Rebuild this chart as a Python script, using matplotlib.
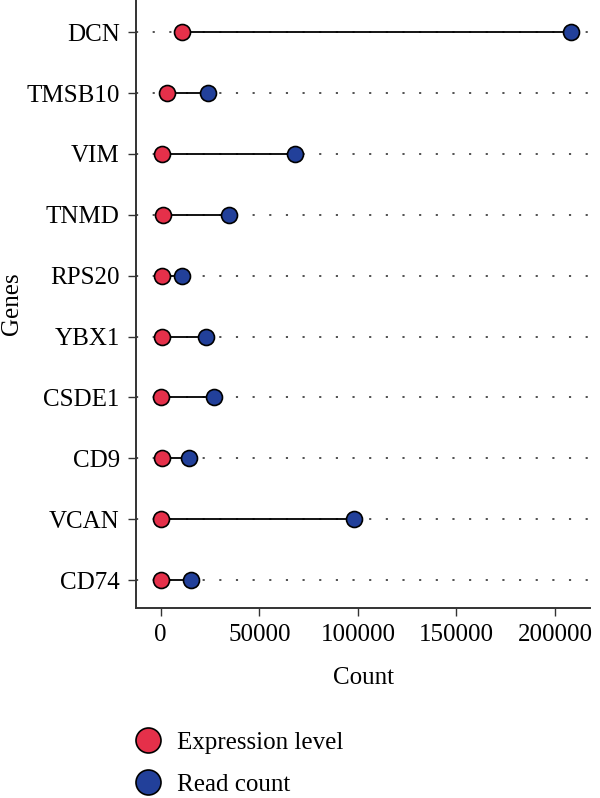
import matplotlib
matplotlib.use("Agg")
import matplotlib.pyplot as plt
from matplotlib.lines import Line2D

plt.rcParams['font.family'] = ['Liberation Serif', 'DejaVu Serif']

# genes from bottom to top
genes = ["CD74", "VCAN", "CD9", "CSDE1", "YBX1", "RPS20", "TNMD", "VIM", "TMSB10", "DCN"]
expression = [200, 300, 500, 150, 650, 800, 1000, 800, 3350, 10650]
read_count = [15200, 98200, 14350, 26900, 23100, 10550, 34800, 68100, 24000, 208000]
xticks = [0, 50000, 100000, 150000, 200000]

RED = "#E5304A"
BLUE = "#22409A"
FS = 18

fig = plt.figure(figsize=(6, 7.98), dpi=100)
ax = fig.add_axes([0.2267, 0.2381, 0.9833 - 0.2267, 1.0 - 0.2381])

ypos = list(range(len(genes)))
for y in ypos:
    ax.axhline(y, color="#222222", lw=1.1, linestyle=(0, (1.4, 9.5)), zorder=1)

ax.hlines(ypos, expression, read_count, color="black", lw=1.3, zorder=2)
ax.plot(expression, ypos, "o", ms=11.5, mfc=RED, mec="black", mew=1.2, zorder=3, linestyle="None")
ax.plot(read_count, ypos, "o", ms=11.5, mfc=BLUE, mec="black", mew=1.2, zorder=3, linestyle="None")

ax.set_xlim(-12525, 217700)
ax.set_ylim(-0.46, 9.53)
ax.set_yticks(ypos)
ax.set_yticklabels(genes)
ax.set_xticks(xticks)
ax.set_xticklabels([str(v) for v in xticks])

for side in ["top", "right"]:
    ax.spines[side].set_visible(False)
for side in ["left", "bottom"]:
    ax.spines[side].set_linewidth(1.4)
    ax.spines[side].set_color("#333333")

ax.tick_params(direction="out", length=5.8, width=1, color="#333333", labelsize=FS, pad=6)
ax.set_xlabel("Count", fontsize=FS, labelpad=15)
ax.set_ylabel("Genes", fontsize=FS)
ax.yaxis.set_label_coords(-0.249, 0.5)

handles = [
    Line2D([], [], marker="o", ls="None", ms=18, mfc=RED, mec="black", mew=1.2),
    Line2D([], [], marker="o", ls="None", ms=18, mfc=BLUE, mec="black", mew=1.2),
]
fig.legend(handles, ["Expression level", "Read count"], loc="upper left",
           bbox_to_anchor=(0.222, 0.0833), frameon=False, fontsize=FS,
           handlelength=1.2, handletextpad=0.56, labelspacing=0.76, borderpad=0,
           borderaxespad=0)

fig.savefig("out.png", dpi=100)
